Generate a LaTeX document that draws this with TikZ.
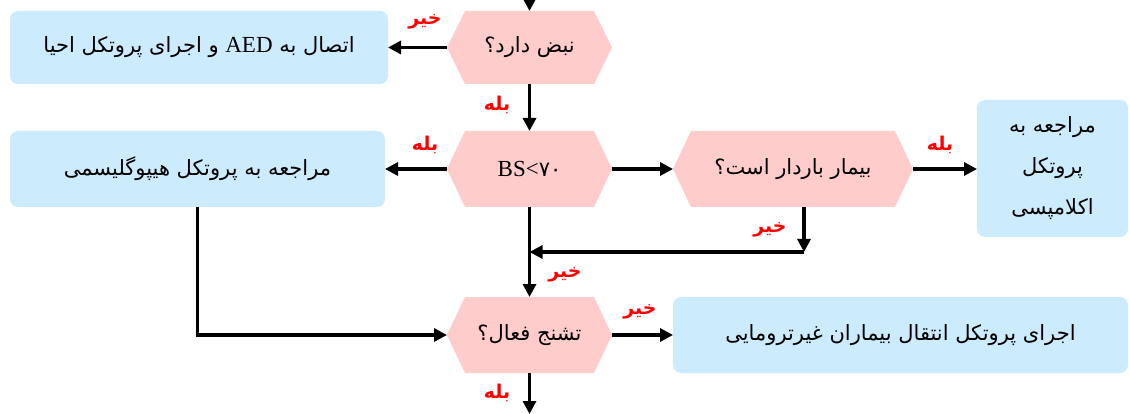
\documentclass[tikz,border=0pt]{standalone}
\usepackage{fontspec}
\setmainfont{Liberation Serif}
\newfontfamily\fa[Script=Arabic]{DejaVu Sans}
\TeXXeTstate=1
\usetikzlibrary{arrows.meta}
\definecolor{boxblue}{HTML}{CCEBFD}
\definecolor{hexpink}{HTML}{FFCCCC}
\definecolor{lblred}{HTML}{FF0000}
\newcommand\fatxt[1]{{\fa\beginR #1\endR}}
\begin{document}
\begin{tikzpicture}[x=1pt,y=-1pt,
  every node/.style={inner sep=0pt, outer sep=0pt},
  box/.style={fill=boxblue, rounded corners=8pt, align=center,
    font=\fontsize{21}{41}\selectfont},
  hex/.style={fill=white, align=center, font=\fontsize{21}{26}\selectfont,
    path picture={\fill[hexpink]
      (path picture bounding box.west)
      -- ([xshift=18pt]path picture bounding box.north west)
      -- ([xshift=-18pt]path picture bounding box.north east)
      -- (path picture bounding box.east)
      -- ([xshift=-18pt]path picture bounding box.south east)
      -- ([xshift=18pt]path picture bounding box.south west) -- cycle;}},
  arr/.style={line width=3.2pt, -{Triangle[length=13pt,width=13pt]}},
  lbl/.style={text=lblred, font=\fa\bfseries\fontsize{19}{22}\selectfont}
]
\useasboundingbox (0,0) rectangle (1130,414);

% nodes
\node[box, minimum width=378pt, minimum height=73pt] (b1) at (199,47.5)
  {\fatxt{اتصال به \beginL{\rmfamily\fontsize{23}{26}\selectfont AED}\endL{} و اجرای پروتکل احیا}};
\node[hex, minimum width=165pt, minimum height=73pt] (h1) at (529.5,47.5)
  {\fatxt{نبض دارد؟}};
\node[box, minimum width=375pt, minimum height=76pt] (b2) at (197.5,169)
  {\fatxt{مراجعه به پروتکل هیپوگلیسمی}};
\node[hex, minimum width=165pt, minimum height=76pt] (h2) at (529.5,169)
  {{\rmfamily\fontsize{23}{26}\selectfont BS<}{\fa ۷۰}};
\node[hex, minimum width=240pt, minimum height=76pt] (h3) at (793,169)
  {\fatxt{بیمار باردار است؟}};
\node[box, minimum width=151pt, minimum height=137pt] (b3) at (1052.5,168.5)
  {\fatxt{مراجعه به}\\ \fatxt{پروتکل}\\ \fatxt{اکلامپسی}};
\node[hex, minimum width=165pt, minimum height=76pt] (h4) at (529.5,335)
  {\fatxt{تشنج فعال؟}};
\node[box, minimum width=455pt, minimum height=76pt] (b4) at (900.5,335)
  {\fatxt{اجرای پروتکل انتقال بیماران غیرترومایی}};

\coordinate (top) at (529.5,0);
\coordinate (bot) at (529.5,414);
\coordinate (j) at (804,252);

% connectors
\draw[arr] (top) -- (h1.north);
\draw[arr] (h1.west) -- (b1.east);
\draw[arr] (h1.south) -- (h2.north);
\draw[arr] (h2.west) -- (b2.east);
\draw[arr] (h2.east) -- (h3.west);
\draw[arr] (h3.east) -- (h3.east -| b3.west);
\draw[arr] (h3.south -| j) -- (j);
\draw[arr] (j) -- (j -| h2.south);
\draw[arr] (h2.south) -- (h4.north);
\draw[arr] (b2.south) |- (h4.west);
\draw[arr] (h4.east) -- (b4.west);
\draw[arr] (h4.south) -- (bot);

% labels
\node[lbl] (l1) at (425,22) {\beginR خیر\endR};
\node[lbl] (l2) at (497,105) {\beginR بله\endR};
\node[lbl] (l3) at (425,145) {\beginR بله\endR};
\node[lbl] (l4) at (940,145) {\beginR بله\endR};
\node[lbl] (l5) at (770,230) {\beginR خیر\endR};
\node[lbl] (l6) at (565,275) {\beginR خیر\endR};
\node[lbl] (l7) at (640,312) {\beginR خیر\endR};
\node[lbl] (l8) at (497,393) {\beginR بله\endR};
\end{tikzpicture}
\end{document}
